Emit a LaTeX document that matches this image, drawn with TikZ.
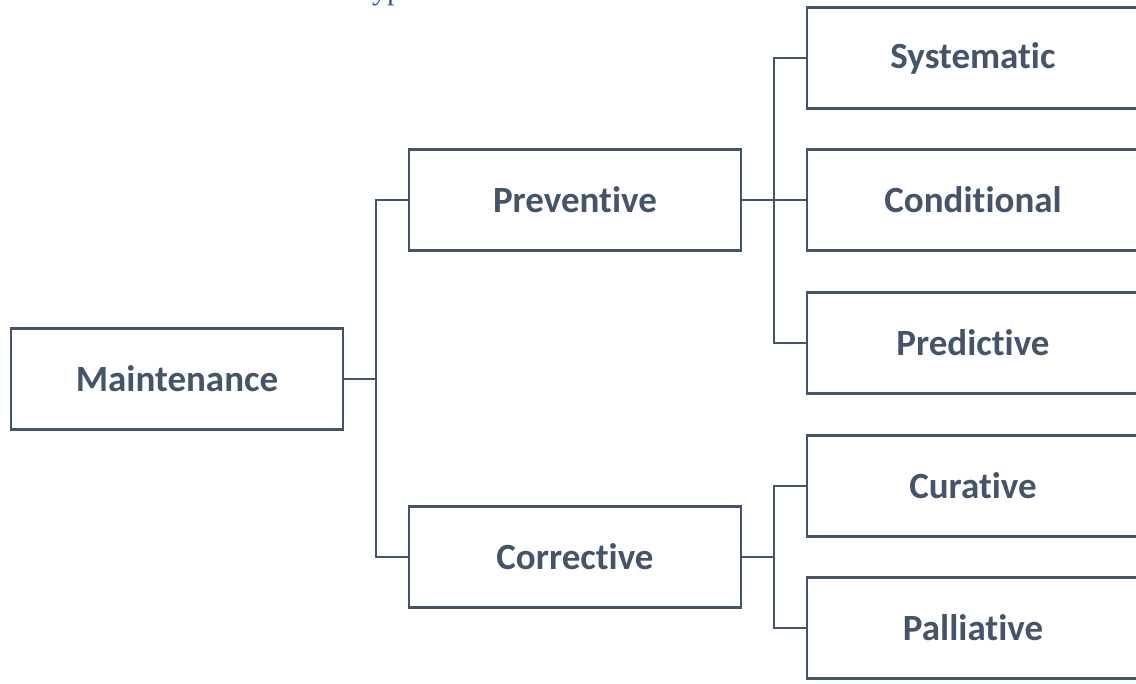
\documentclass[tikz,border=0pt]{standalone}
\usepackage{fontspec}
\setmainfont[Ligatures=NoCommon]{Carlito}
\newfontfamily\titlefont{Liberation Serif}
\definecolor{slate}{HTML}{44546A}
\definecolor{titleblue}{HTML}{2F5597}
\begin{document}
\begin{tikzpicture}[x=1pt,y=-1pt,
  box/.style={draw=slate,line width=2.5pt,fill=white,minimum width=332pt,minimum height=101pt,inner sep=0pt,text=slate,font=\bfseries\fontsize{37}{42}\selectfont},
  link/.style={draw=slate,line width=2.5pt}]
\useasboundingbox (0,0) rectangle (1136,684);
\node[anchor=base west,text=titleblue,font=\titlefont\fontsize{30}{34}\selectfont,inner sep=0pt] (title) at (372,0) {ypes};
\node[box] (m) at (177,379) {Maintenance};
\node[box] (p) at (575,200) {Preventive};
\node[box] (c) at (575,557) {Corrective};
\node[box] (s) at (973,58) {Systematic};
\node[box] (co) at (973,200) {Conditional};
\node[box] (pr) at (973,343) {Predictive};
\node[box] (cu) at (973,486) {Curative};
\node[box] (pa) at (973,628) {Palliative};
\coordinate (j1) at (376,379);
\coordinate (j2) at (774,200);
\coordinate (j3) at (774,557);
\draw[link] (m.east) -- (j1);
\draw[link] (j1) |- (p.west);
\draw[link] (j1) |- (c.west);
\draw[link] (p.east) -- (co.west);
\draw[link] (j2) |- (s.west);
\draw[link] (j2) |- (pr.west);
\draw[link] (c.east) -- (j3);
\draw[link] (j3) |- (cu.west);
\draw[link] (j3) |- (pa.west);
\end{tikzpicture}
\end{document}
